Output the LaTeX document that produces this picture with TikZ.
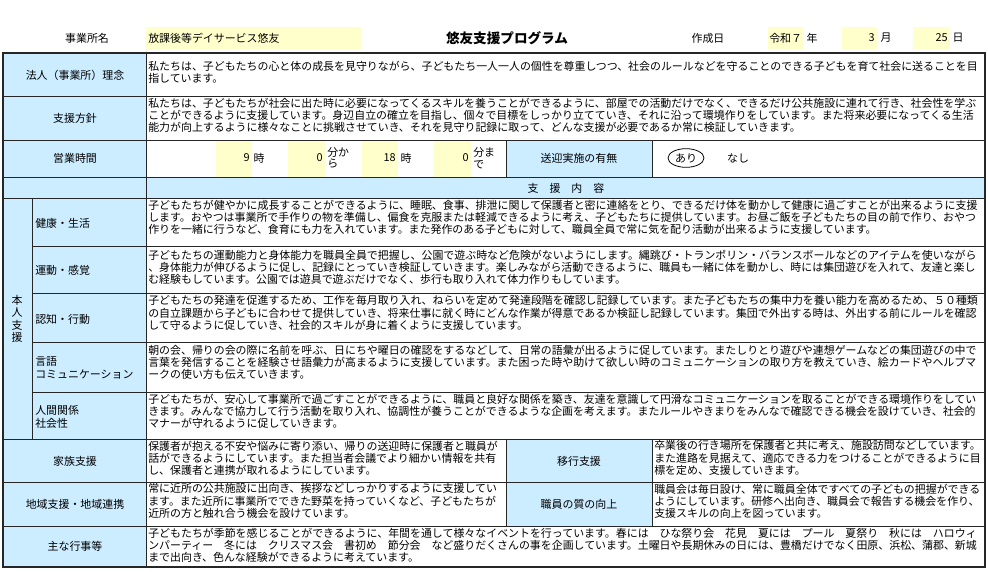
\documentclass[tikz,border=0pt]{standalone}
\usepackage{fontspec}
\setmainfont{Noto Sans CJK JP}
\usetikzlibrary{shapes.geometric}
\definecolor{lblue}{RGB}{204,236,255}
\definecolor{lyel}{RGB}{255,255,204}
\newcommand\fsz{\fontsize{8.2pt}{9.3pt}\selectfont}
\newcommand\fszt{\fontsize{10.2pt}{11pt}\selectfont\bfseries}
\begin{document}
\begin{tikzpicture}[x=0.75pt,y=-0.75pt,
  every node/.style={inner sep=0pt, font=\fsz},
  txt/.style={anchor=north west, align=left},
  sub/.style={anchor=west, align=left},
  grid/.style={line width=0.75pt, draw=black!85},
  outer/.style={line width=1.2pt, draw=black!85}]
\useasboundingbox (0,0) rectangle (988,571);
% ---------- header ----------
\fill[lyel] (146,27) rectangle (361,50);
\fill[lyel] (768,27) rectangle (803,50);
\fill[lyel] (842,27) rectangle (877,50);
\fill[lyel] (913,27) rectangle (950,50);
\node (h1) at (87,38) {事業所名};
\node[anchor=west] (h2) at (148,38) {放課後等デイサービス悠友};
\node[font=\fszt] (title) at (507,38) {悠友支援プログラム};
\node (h3) at (708,38) {作成日};
\node[anchor=west] (h4) at (769,38) {令和７};
\node (h5) at (812,38) {年};
\node[anchor=east] (h6) at (875,38) {3};
\node (h7) at (886,38) {月};
\node[anchor=east] (h8) at (948,38) {25};
\node (h9) at (958,38) {日};
% ---------- fills ----------
\fill[lblue] (3,53) rectangle (146,567);
\fill[lblue] (146,177) rectangle (985,198);
\fill[lblue] (506,140) rectangle (652,177);
\fill[lblue] (506,439) rectangle (652,526);
\fill[lyel] (216,140) rectangle (252,177);
\fill[lyel] (288,140) rectangle (325,177);
\fill[lyel] (362,140) rectangle (398,177);
\fill[lyel] (434,140) rectangle (471,177);
% ---------- grid ----------
\foreach \y in {96,140,177,198,439,482,526} \draw[grid] (3,\y) -- (985,\y);
\foreach \y in {246,293,342,392} \draw[grid] (32,\y) -- (985,\y);
\draw[grid] (146,53) -- (146,567);
\draw[grid] (32,198) -- (32,439);
\draw[grid] (506,140) -- (506,177);
\draw[grid] (652,140) -- (652,177);
\draw[grid] (506,439) -- (506,526);
\draw[grid] (652,439) -- (652,526);
\draw[outer] (3,53) rectangle (985,567);
% ---------- labels ----------
\node (l1) at (75,75) {法人（事業所）理念};
\node (l2) at (75,118) {支援方針};
\node (l3) at (75,158) {営業時間};
\node (l4) at (566,188) {支　援　内　容};
\node[align=center, font=\fontsize{8.2pt}{9.4pt}\selectfont] (l5) at (17,319) {本\\人\\支\\援};
\node[sub] (s1) at (35,223) {健康・生活};
\node[sub] (s2) at (35,270) {運動・感覚};
\node[sub] (s3) at (35,319) {認知・行動};
\node[sub] (s4) at (35,368) {言語\\コミュニケーション};
\node[sub] (s5) at (35,417) {人間関係\\社会性};
\node (l6) at (75,461) {家族支援};
\node (l7) at (75,504) {地域支援・地域連携};
\node (l8) at (75,546) {主な行事等};
\node (l9) at (579,461) {移行支援};
\node (l10) at (579,504) {職員の質の向上};
% ---------- business hours ----------
\node[anchor=east] (b1) at (250,158) {9};
\node (b2) at (259,158) {時};
\node[anchor=east] (b3) at (323,158) {0};
\node[anchor=west, align=left, font=\fontsize{8.2pt}{8.6pt}\selectfont] (b4) at (327,158) {分か\\ら};
\node[anchor=east] (b5) at (396,158) {18};
\node (b6) at (406,158) {時};
\node[anchor=east] (b7) at (469,158) {0};
\node[anchor=west, align=left, font=\fontsize{8.2pt}{8.6pt}\selectfont] (b8) at (473,158) {分ま\\で};
\node (b9) at (579,158) {送迎実施の有無};
\node[draw, ellipse, line width=0.6pt, minimum width=27pt, minimum height=14pt] (ari) at (686,158) {あり};
\node (nashi) at (738,158) {なし};
% ---------- texts ----------
\node[txt] (t1) at (148,60.5) {私たちは、子どもたちの心と体の成長を見守りながら、子どもたち一人一人の個性を尊重しつつ、社会のルールなどを守ることのできる子どもを育て社会に送ることを目\\指しています。};
\node[txt] (t2) at (148,97.5) {私たちは、子どもたちが社会に出た時に必要になってくるスキルを養うことができるように、部屋での活動だけでなく、できるだけ公共施設に連れて行き、社会性を学ぶ\\ことができるように支援しています。身辺自立の確立を目指し、個々で目標をしっかり立てていき、それに沿って環境作りをしています。また将来必要になってくる生活\\能力が向上するように様々なことに挑戦させていき、それを見守り記録に取って、どんな支援が必要であるか常に検証していきます。};
\node[txt] (t3) at (148,199.5) {子どもたちが健やかに成長することができるように、睡眠、食事、排泄に関して保護者と密に連絡をとり、できるだけ体を動かして健康に過ごすことが出来るように支援\\します。おやつは事業所で手作りの物を準備し、偏食を克服または軽減できるように考え、子どもたちに提供しています。お昼ご飯を子どもたちの目の前で作り、おやつ\\作りを一緒に行うなど、食育にも力を入れています。また発作のある子どもに対して、職員全員で常に気を配り活動が出来るように支援しています。};
\node[txt] (t4) at (148,249.5) {子どもたちの運動能力と身体能力を職員全員で把握し、公園で遊ぶ時など危険がないようにします。縄跳び・トランポリン・バランスボールなどのアイテムを使いながら\\、身体能力が伸びるように促し、記録にとっていき検証していきます。楽しみながら活動できるように、職員も一緒に体を動かし、時には集団遊びを入れて、友達と楽し\\む経験もしています。公園では遊具で遊ぶだけでなく、歩行も取り入れて体力作りもしています。};
\node[txt] (t5) at (148,295.5) {子どもたちの発達を促進するため、工作を毎月取り入れ、ねらいを定めて発達段階を確認し記録しています。また子どもたちの集中力を養い能力を高めるため、５０種類\\の自立課題から子どもに合わせて提供していき、将来仕事に就く時にどんな作業が得意であるか検証し記録しています。集団で外出する時は、外出する前にルールを確認\\して守るように促していき、社会的スキルが身に着くように支援しています。};
\node[txt] (t6) at (148,344.5) {朝の会、帰りの会の際に名前を呼ぶ、日にちや曜日の確認をするなどして、日常の語彙が出るように促しています。またしりとり遊びや連想ゲームなどの集団遊びの中で\\言葉を発信することを経験させ語彙力が高まるように支援しています。また困った時や助けて欲しい時のコミュニケーションの取り方を教えていき、絵カードやヘルプマ\\ークの使い方も伝えていきます。};
\node[txt] (t7) at (148,393.5) {子どもたちが、安心して事業所で過ごすことができるように、職員と良好な関係を築き、友達を意識して円滑なコミュニケーションを取ることができる環境作りをしてい\\きます。みんなで協力して行う活動を取り入れ、協調性が養うことができるような企画を考えます。またルールやきまりをみんなで確認できる機会を設けていき、社会的\\マナーが守れるように促していきます。};
\node[txt] (t8) at (148,440.5) {保護者が抱える不安や悩みに寄り添い、帰りの送迎時に保護者と職員が\\話ができるようにしています。また担当者会議でより細かい情報を共有\\し、保護者と連携が取れるようにしています。};
\node[txt] (t9) at (654,440.5) {卒業後の行き場所を保護者と共に考え、施設訪問などしています。\\また進路を見据えて、適応できる力をつけることができるように目\\標を定め、支援していきます。};
\node[txt] (t10) at (148,483.5) {常に近所の公共施設に出向き、挨拶などしっかりするように支援してい\\ます。また近所に事業所でできた野菜を持っていくなど、子どもたちが\\近所の方と触れ合う機会を設けています。};
\node[txt] (t11) at (654,483.5) {職員会は毎日設け、常に職員全体ですべての子どもの把握ができる\\ようにしています。研修へ出向き、職員会で報告する機会を作り、\\支援スキルの向上を図っています。};
\node[txt] (t12) at (148,527.5) {子どもたちが季節を感じることができるように、年間を通して様々なイベントを行っています。春には　ひな祭り会　花見　夏には　プール　夏祭り　秋には　ハロウィ\\ンパーティー　冬には　クリスマス会　書初め　節分会　など盛りだくさんの事を企画しています。土曜日や長期休みの日には、豊橋だけでなく田原、浜松、蒲郡、新城\\まで出向き、色んな経験ができるように考えています。};
\end{tikzpicture}
\end{document}
